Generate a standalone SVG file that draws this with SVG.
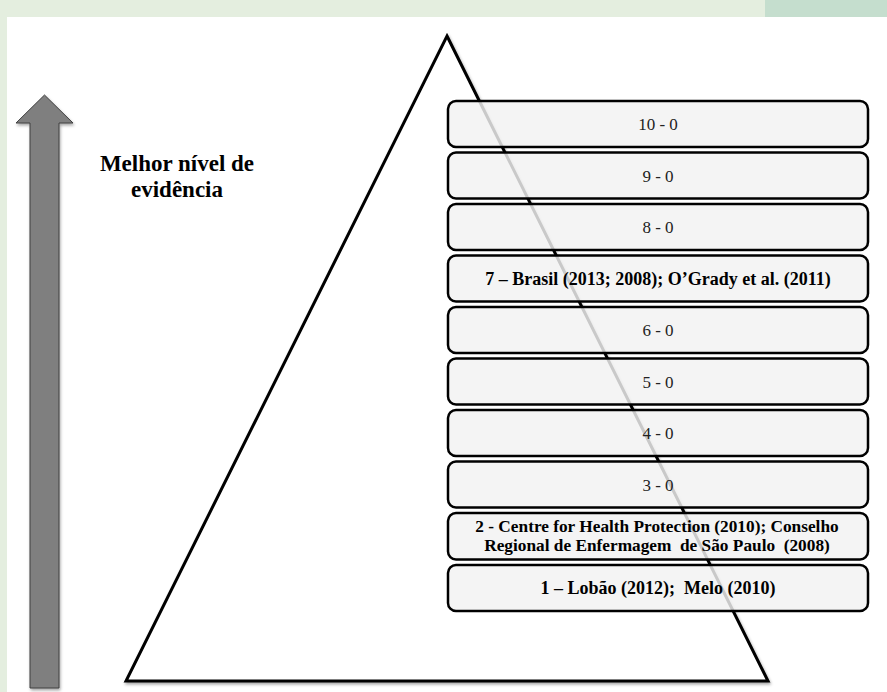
<svg xmlns="http://www.w3.org/2000/svg" width="887" height="692" viewBox="0 0 887 692">
<defs>
<filter id="sh" x="-10%" y="-10%" width="130%" height="130%">
<feDropShadow dx="1" dy="2" stdDeviation="1.5" flood-color="#000" flood-opacity="0.35"/>
</filter>
</defs>
<style>
.box{fill:#f2f2f2;fill-opacity:0.83;stroke:#000;stroke-width:2.5}
.t{font-family:"Liberation Serif","Times New Roman",serif;font-size:17px;fill:#222;text-anchor:middle}
.b{font-family:"Liberation Serif","Times New Roman",serif;font-size:18px;font-weight:bold;fill:#000;text-anchor:middle;white-space:pre}
.b2{font-family:"Liberation Serif","Times New Roman",serif;font-size:17.3px;font-weight:bold;fill:#000;text-anchor:middle;white-space:pre}
.lbl{font-family:"Liberation Serif","Times New Roman",serif;font-size:23px;font-weight:bold;fill:#000;text-anchor:middle}
</style>
<rect width="887" height="692" fill="#fff"/>
<rect x="0" y="0" width="887" height="17" fill="#e4eedf"/>
<rect x="765" y="0" width="122" height="17" fill="#c5dece"/>
<rect x="0" y="0" width="7" height="692" fill="#e4eedf"/>

<g id="arrow">
<path d="M30,688 L30,123 L16,123 L44.5,95 L73,123 L59,123 L59,688 Z" fill="#7f7f7f" stroke="#3f3f3f" stroke-width="1" filter="url(#sh)"/>
</g>
<g id="label">
<text class="lbl" x="177" y="171">Melhor nível de</text>
<text class="lbl" x="177" y="197">evidência</text>
</g>
<g id="pyramid">
<path d="M447,36 L768,681 L126,681 Z" fill="#fff" stroke="#000" stroke-width="3" stroke-linejoin="miter" filter="url(#sh)"/>
</g>
<g id="connectors"></g>
<g id="n10"><rect class="box" x="448" y="101" width="420" height="46" rx="8"/><text class="t" x="658" y="130">10 - 0</text></g>
<g id="n9"><rect class="box" x="448" y="152.5" width="420" height="46" rx="8"/><text class="t" x="658" y="181.5">9 - 0</text></g>
<g id="n8"><rect class="box" x="448" y="204" width="420" height="46" rx="8"/><text class="t" x="658" y="233">8 - 0</text></g>
<g id="n7"><rect class="box" x="448" y="255.5" width="420" height="46" rx="8"/><text class="b" x="658" y="284.5">7 – Brasil (2013; 2008); O’Grady et al. (2011)</text></g>
<g id="n6"><rect class="box" x="448" y="307" width="420" height="46" rx="8"/><text class="t" x="658" y="336">6 - 0</text></g>
<g id="n5"><rect class="box" x="448" y="358.5" width="420" height="46" rx="8"/><text class="t" x="658" y="387.5">5 - 0</text></g>
<g id="n4"><rect class="box" x="448" y="410" width="420" height="46" rx="8"/><text class="t" x="658" y="439">4 - 0</text></g>
<g id="n3"><rect class="box" x="448" y="461.5" width="420" height="46" rx="8"/><text class="t" x="658" y="490.5">3 - 0</text></g>
<g id="n2"><rect class="box" x="448" y="513" width="420" height="46.5" rx="8"/><text class="b2" x="657" y="532">2 - Centre for Health Protection (2010); Conselho</text><text class="b2" x="657" y="550.5">Regional de Enfermagem  de São Paulo  (2008)</text></g>
<g id="n1"><rect class="box" x="448" y="565" width="420" height="46" rx="8"/><text class="b" x="658" y="594">1 – Lobão (2012);  Melo (2010)</text></g>
</svg>
